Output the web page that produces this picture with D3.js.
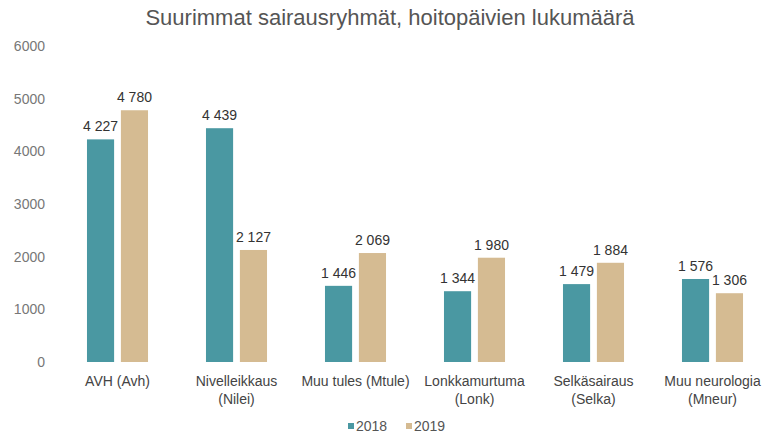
<!DOCTYPE html>
<html lang="fi">
<head>
<meta charset="UTF-8">
<title>Suurimmat sairausryhmät</title>
<script src="https://cdn.jsdelivr.net/npm/d3@7"></script>
<style>
  body { margin: 0; background: #fff; }
  text { font-family: "Liberation Sans", Arial, sans-serif; }
</style>
</head>
<body>
<svg id="chart" width="766" height="436"></svg>
<script>
const categories = [
  ["AVH (Avh)"],
  ["Nivelleikkaus", "(Nilei)"],
  ["Muu tules (Mtule)"],
  ["Lonkkamurtuma", "(Lonk)"],
  ["Selkäsairaus", "(Selka)"],
  ["Muu neurologia", "(Mneur)"]
];
const years = ["2018", "2019"];
const values2018 = [4227, 4439, 1446, 1344, 1479, 1576];
const values2019 = [4780, 2127, 2069, 1980, 1884, 1306];
const yTicks = [0, 1000, 2000, 3000, 4000, 5000, 6000];

const colors = { "2018": "#4a98a2", "2019": "#d5bb92" };
const series = { "2018": values2018, "2019": values2019 };

const svg = d3.select("#chart");
svg.append("rect").attr("width", 766).attr("height", 436).attr("fill", "#fff");

const y = d3.scaleLinear().domain([0, 6000]).range([362, 46]);
const x0 = d3.scaleBand().domain(d3.range(categories.length))
  .range([58, 772]).paddingInner(0.487).paddingOuter(0.2435);
const x1 = d3.scaleBand().domain(years).range([0, x0.bandwidth()]).paddingInner(0.2);

const fmt = d3.formatLocale({ decimal: ",", thousands: " ", grouping: [3], currency: ["", "€"] }).format(",d");

// title
svg.append("text")
  .attr("x", 390).attr("y", 25)
  .attr("text-anchor", "middle")
  .attr("font-size", 22).attr("fill", "#555")
  .text("Suurimmat sairausryhmät, hoitopäivien lukumäärä");

// y axis labels
const yAxis = d3.axisLeft(y).tickValues(yTicks).tickSize(0).tickPadding(0).tickFormat(d3.format("d"));
const gy = svg.append("g").attr("transform", "translate(45,0)").call(yAxis);
gy.select(".domain").remove();
gy.selectAll("text")
  .attr("font-size", 14).attr("fill", "#777")
  .style("font-family", "'Liberation Sans', Arial, sans-serif");

// bars
const groups = svg.append("g").selectAll("g")
  .data(categories.map((c, i) => i))
  .join("g")
  .attr("transform", i => `translate(${x0(i)},0)`);

groups.selectAll("rect")
  .data(i => years.map(yr => ({ yr, v: series[yr][i] })))
  .join("rect")
  .attr("x", d => x1(d.yr))
  .attr("width", x1.bandwidth())
  .attr("y", d => y(d.v))
  .attr("height", d => y(0) - y(d.v))
  .attr("fill", d => colors[d.yr]);

groups.selectAll("text.val")
  .data(i => years.map(yr => ({ yr, v: series[yr][i] })))
  .join("text")
  .attr("class", "val")
  .attr("x", d => x1(d.yr) + x1.bandwidth() / 2)
  .attr("y", d => y(d.v) - 8)
  .attr("text-anchor", "middle")
  .attr("font-size", 14).attr("fill", "#333")
  .text(d => fmt(d.v));

// category labels
const xAxis = d3.axisBottom(x0).tickSize(0).tickFormat(() => "");
const gx = svg.append("g").attr("transform", `translate(0,${y(0)})`).call(xAxis);
gx.select(".domain").remove();
gx.selectAll(".tick text").each(function (i) {
  const t = d3.select(this)
    .attr("y", 24).attr("dy", null)
    .attr("font-size", 14).attr("fill", "#444")
    .style("font-family", "'Liberation Sans', Arial, sans-serif");
  categories[i].forEach((line, k) => {
    t.append("tspan").attr("x", 0).attr("dy", k === 0 ? 0 : 18).text(line);
  });
});

// legend
const legend = svg.append("g").attr("transform", "translate(348,431)");
years.forEach((yr, i) => {
  const g = legend.append("g").attr("transform", `translate(${i * 58},0)`);
  g.append("rect").attr("x", 0).attr("y", -8).attr("width", 6).attr("height", 6).attr("fill", colors[yr]);
  g.append("text").attr("x", 8).attr("y", 0).attr("font-size", 14).attr("fill", "#555").text(yr);
});
</script>
</body>
</html>
